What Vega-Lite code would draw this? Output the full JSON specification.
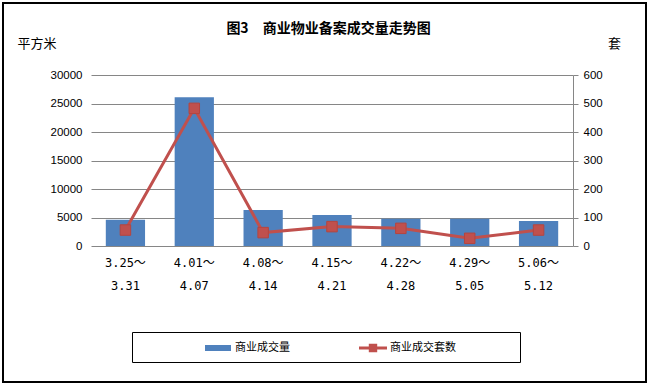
{
  "$schema": "https://vega.github.io/schema/vega-lite/v6.json",
  "width": 643,
  "height": 379,
  "autosize": {"type": "none"},
  "padding": {"left": 3, "top": 3, "right": 5, "bottom": 6},
  "background": "white",
  "config": {
    "view": {"stroke": "black", "strokeWidth": 2},
    "font": "Noto Sans CJK SC"
  },
  "title": {
    "text": "图3　商业物业备案成交量走势图",
    "fontSize": 14,
    "fontWeight": "bold",
    "font": "Noto Sans CJK SC",
    "color": "black",
    "anchor": "middle",
    "baseline": "middle",
    "offset": -40,
    "dx": 4
  },
  "data": {
    "values": [
      {"period": "3.25～3.31", "area": 4600, "count": 56},
      {"period": "4.01～4.07", "area": 26100, "count": 483},
      {"period": "4.08～4.14", "area": 6300, "count": 47},
      {"period": "4.15～4.21", "area": 5440, "count": 68},
      {"period": "4.22～4.28", "area": 4790, "count": 62},
      {"period": "4.29～5.05", "area": 4800, "count": 27},
      {"period": "5.06～5.12", "area": 4390, "count": 56}
    ]
  },
  "encoding": {
    "x": {
      "field": "period",
      "type": "ordinal",
      "sort": null,
      "scale": {"range": [88, 570], "paddingInner": 0.43, "paddingOuter": 0.215},
      "axis": {
        "orient": "bottom",
        "offset": -136,
        "domain": false,
        "ticks": false,
        "grid": false,
        "labelAngle": 0,
        "labelExpr": "[slice(datum.label,0,5), slice(datum.label,5)]",
        "labelLineHeight": 23,
        "labelPadding": 11,
        "labelFont": "DejaVu Sans Mono, Noto Sans CJK SC",
        "labelFontSize": 12,
        "labelColor": "black",
        "title": null
      }
    }
  },
  "layer": [
    {
      "mark": {"type": "bar"},
      "encoding": {
        "y": {
          "field": "area",
          "type": "quantitative",
          "scale": {"domain": [0, 30000], "range": [243, 72]},
          "axis": {
            "orient": "left",
            "offset": -88,
            "grid": true,
            "gridColor": "#868686",
            "gridWidth": 1,
            "domain": false,
            "ticks": false,
            "values": [0, 5000, 10000, 15000, 20000, 25000, 30000],
            "format": "d",
            "labelPadding": 9,
            "labelFont": "Liberation Sans",
            "labelFontSize": 11.5,
            "labelColor": "black",
            "title": "平方米",
            "titleAngle": 0,
            "titleX": -74,
            "titleY": 40,
            "titleAlign": "left",
            "titleBaseline": "middle",
            "titleFont": "Noto Sans CJK SC",
            "titleFontSize": 13,
            "titleFontWeight": "normal",
            "titleColor": "black"
          }
        },
        "color": {
          "datum": "商业成交量",
          "type": "nominal",
          "scale": {"domain": ["商业成交量", "商业成交套数"], "range": ["#4F81BD", "#C0504D"]},
          "legend": {
            "orient": "none",
            "legendX": 129,
            "legendY": 329,
            "direction": "horizontal",
            "title": " ",
            "titleOrient": "right",
            "titlePadding": 55,
            "strokeColor": "black",
            "padding": 9,
            "symbolSize": 196,
            "symbolOffset": 70,
            "labelOffset": 10,
            "columnPadding": 6,
            "labelFont": "Noto Sans CJK SC",
            "labelFontSize": 11,
            "labelColor": "black",
            "encode": {
              "symbols": {
                "update": {
                  "shape": {"signal": "datum.value === '商业成交量' ? 'M-1.86,-0.43H1.86V0.43H-1.86Z' : 'M-2,-0.2H-0.6V-0.6H0.6V-0.2H2V0.2H0.6V0.6H-0.6V0.2H-2Z'"},
                  "strokeWidth": {"value": 0}
                }
              }
            }
          }
        }
      }
    },
    {
      "mark": {
        "type": "line",
        "strokeWidth": 3,
        "point": {"shape": "square", "size": 110, "filled": true, "stroke": "#B5453F", "strokeWidth": 1}
      },
      "encoding": {
        "y": {
          "field": "count",
          "type": "quantitative",
          "scale": {"domain": [0, 600], "range": [243, 72]},
          "axis": {
            "orient": "right",
            "offset": -73,
            "grid": false,
            "domain": true,
            "domainColor": "#868686",
            "ticks": true,
            "tickColor": "#868686",
            "tickSize": 5,
            "values": [0, 100, 200, 300, 400, 500, 600],
            "labelPadding": 5,
            "labelFont": "Liberation Sans",
            "labelFontSize": 11.5,
            "labelColor": "black",
            "title": "套",
            "titleAngle": 0,
            "titleX": 41,
            "titleY": 40,
            "titleAlign": "center",
            "titleBaseline": "middle",
            "titleFont": "Noto Sans CJK SC",
            "titleFontSize": 13,
            "titleFontWeight": "normal",
            "titleColor": "black"
          }
        },
        "color": {"datum": "商业成交套数", "type": "nominal"}
      }
    }
  ],
  "resolve": {"scale": {"y": "independent"}}
}
